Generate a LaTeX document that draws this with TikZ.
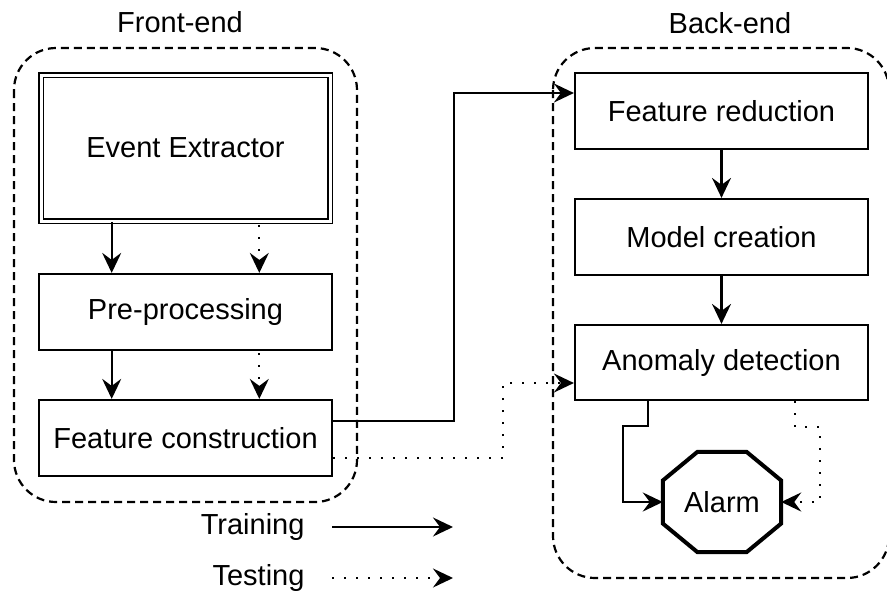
\documentclass[tikz,border=0pt]{standalone}
\usepackage{fontspec}
\setmainfont{Liberation Sans}
\usetikzlibrary{arrows.meta,calc}
\begin{document}
\begin{tikzpicture}[x=1pt,y=-1pt,
  every node/.style={font=\fontsize{29}{34}\selectfont},
  box/.style={draw,line width=2.2pt,minimum width=293pt,minimum height=76pt,inner sep=0pt},
  group/.style={draw,line width=2.2pt,dash pattern=on 8pt off 5pt,rounded corners=42pt},
  tip/.style={-{Stealth[length=20pt,width=19pt,inset=7pt]}},
  train/.style={tip,line width=2.2pt},
  test/.style={tip,line width=2.2pt,dash pattern=on 2pt off 10pt}]
\useasboundingbox (0,0) rectangle (887,595);
% groups
\draw[group] (14,48) rectangle (357,502);
\draw[group] (553,48) rectangle (889,578);
\node (fel) at (180,22) {Front-end};
\node (bel) at (730,23) {Back-end};
% front-end nodes
\node[box,double,double distance=3pt,line width=1.6pt,minimum width=289pt,minimum height=146pt] (ee) at (185.5,148) {Event Extractor};
\node[box] (pp) at (185.5,312) {Pre-processing};
\node[box] (fc) at (185.5,438) {Feature construction};
% back-end nodes
\node[box] (fr) at (721.5,111) {Feature reduction};
\node[box] (mc) at (721.5,237) {Model creation};
\node[box,minimum height=75pt] (ad) at (721.5,362.5) {Anomaly detection};
\node[minimum width=118pt,minimum height=100pt,inner sep=0pt] (alarm) at (722,502) {Alarm};
\draw[line width=4pt,line join=miter]
  ($(alarm.north)+(-24.5,0)$) -- ($(alarm.north)+(24.5,0)$) --
  ($(alarm.east)+(0,-21.5)$) -- ($(alarm.east)+(0,21.5)$) --
  ($(alarm.south)+(24.5,0)$) -- ($(alarm.south)+(-24.5,0)$) --
  ($(alarm.west)+(0,21.5)$) -- ($(alarm.west)+(0,-21.5)$) -- cycle;
% front-end arrows
\coordinate (c1) at ($(pp.north west)!0.25!(pp.north east)$);
\coordinate (c2) at ($(pp.north west)!0.75!(pp.north east)$);
\draw[train] (c1 |- ee.south) -- (c1);
\draw[test] ($(c2 |- ee.south)+(0,3)$) -- (c2);
\draw[train] ($(pp.south west)!0.25!(pp.south east)$) -- ($(fc.north west)!0.25!(fc.north east)$);
\draw[test] ($(pp.south west)!0.75!(pp.south east)+(0,2)$) -- ($(fc.north west)!0.75!(fc.north east)$);
% cross arrows
\draw[train,line join=miter] ($(fc.east)+(0,-17)$) -- ++(121,0) |- ($(fr.west)+(0,-18)$);
\draw[test] ($(fc.east)+(0,20)$) -- ++(170,0) |- ($(ad.west)+(0,20.5)$);
% back-end arrows
\draw[train] (fr.south) -- (mc.north);
\draw[train] (mc.south) -- (ad.north);
\draw[train,line join=miter] ($(ad.south west)!0.25!(ad.south east)$) -- ++(0,25) -- ++(-25,0) |- (alarm.west);
\draw[test] ($(ad.south west)!0.75!(ad.south east)$) -- ++(0,26) -- ++(25,0) |- (alarm.east);
% legend
\node[anchor=east] (trl) at (308,527) {Training};
\node[anchor=east] (tel) at (308,578) {Testing};
\coordinate (tra) at (332,527);
\coordinate (trb) at (453,527);
\coordinate (tea) at (332,578);
\coordinate (teb) at (453,578);
\draw[train] (tra) -- (trb);
\draw[test] (tea) -- (teb);
\end{tikzpicture}
\end{document}
